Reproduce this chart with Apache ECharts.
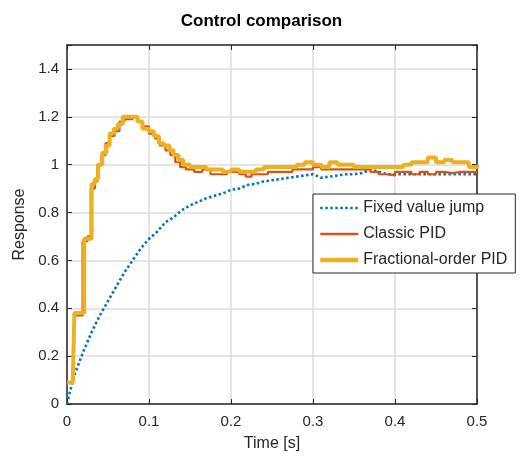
<!DOCTYPE html>
<html>
<head>
<meta charset="utf-8">
<script src="https://cdn.jsdelivr.net/npm/echarts@6/dist/echarts.min.js"></script>
<style>
html,body{margin:0;padding:0;background:#fff;}
#chart{width:523px;height:460px;}
</style>
</head>
<body>
<div id="chart"></div>
<script>
var seriesNames=["Fixed value jump","Classic PID","Fractional-order PID"];
var xTicks=[0,0.1,0.2,0.3,0.4,0.5];
var yTicks=[0,0.2,0.4,0.6,0.8,1,1.2,1.4];

// fixed value jump (dotted blue)
var jumpT=[0,0.005,0.01,0.02,0.03,0.04,0.05,0.06,0.07,0.08,0.09,0.1,0.11,0.12,0.13,0.14,0.15,0.16,0.17,0.18,0.19,0.2,0.21,0.22,0.23,0.24,0.25,0.26,0.27,0.28,0.29,0.3,0.31,0.32,0.33,0.34,0.35,0.36,0.37,0.38,0.39,0.4,0.42,0.44,0.46,0.48,0.5];
var jumpV=[0,0.07,0.13,0.22,0.3,0.37,0.43,0.49,0.55,0.6,0.65,0.69,0.72,0.76,0.78,0.81,0.83,0.845,0.86,0.87,0.88,0.895,0.9,0.915,0.92,0.93,0.935,0.94,0.945,0.95,0.955,0.96,0.945,0.95,0.955,0.96,0.96,0.965,0.98,0.97,0.96,0.96,0.96,0.96,0.96,0.96,0.96];

// classic PID (red)
var pidT=[0,0.007,0.009,0.016,0.019,0.025,0.029,0.034,0.037,0.042,0.047,0.052,0.058,0.064,0.07,0.08,0.086,0.092,0.1,0.107,0.113,0.12,0.126,0.132,0.138,0.145,0.155,0.165,0.175,0.185,0.195,0.205,0.21,0.218,0.225,0.235,0.245,0.26,0.275,0.29,0.3,0.31,0.32,0.34,0.36,0.37,0.38,0.39,0.4,0.41,0.42,0.43,0.44,0.45,0.46,0.47,0.48,0.5];
var pidV=[0.09,0.09,0.37,0.37,0.68,0.7,0.9,0.93,1.0,1.04,1.09,1.12,1.14,1.18,1.19,1.2,1.18,1.16,1.13,1.11,1.08,1.06,1.04,1.01,0.99,0.98,0.97,0.98,0.96,0.96,0.97,0.97,0.96,0.95,0.96,0.96,0.97,0.97,0.98,0.98,0.99,0.98,0.98,0.98,0.98,0.97,0.96,0.955,0.97,0.97,0.96,0.97,0.96,0.97,0.965,0.97,0.97,0.97];

// fractional-order PID (yellow)
var fopidT=[0,0.007,0.009,0.018,0.021,0.027,0.03,0.034,0.038,0.043,0.048,0.052,0.057,0.062,0.068,0.08,0.086,0.092,0.1,0.106,0.112,0.118,0.125,0.13,0.136,0.142,0.15,0.16,0.17,0.18,0.19,0.2,0.21,0.22,0.23,0.24,0.26,0.28,0.29,0.3,0.31,0.32,0.33,0.35,0.37,0.39,0.41,0.42,0.43,0.44,0.45,0.46,0.47,0.48,0.49,0.5];
var fopidV=[0.09,0.09,0.38,0.38,0.69,0.69,0.92,0.94,1.0,1.05,1.08,1.13,1.15,1.17,1.2,1.2,1.18,1.15,1.14,1.12,1.09,1.08,1.06,1.04,1.02,1.0,0.99,0.99,0.98,0.98,0.97,0.98,0.97,0.97,0.98,0.99,0.99,1.0,1.01,1.0,0.99,1.01,1.0,0.99,0.99,0.99,1.0,1.01,1.01,1.03,1.01,1.02,1.01,1.01,0.99,1.0];

var colors=['#0072BD','#D95319','#EDB120'];

function pairs(t,v){
	var out=[];
	for(var i=0;i<t.length;i++){out.push([t[i],v[i]]);}
	return out;
}

var txt='#262626';
var font='Liberation Sans';
var chart=echarts.init(document.getElementById('chart'));

function xAx(pos,show){
	return {
		type:'value',position:pos,min:0,max:0.5,interval:0.1,
		axisLine:{show:true,onZero:false,lineStyle:{color:txt,width:1.5}},
		axisTick:{show:true,inside:true,length:5,lineStyle:{color:txt,width:1}},
		axisLabel:{show:show,color:txt,fontSize:15,fontFamily:font,margin:10,
			formatter:function(v){return String(Math.round(v*10)/10);}},
		splitLine:{show:show,lineStyle:{color:'#dcdcdc',width:1.5}},
		name:show?'Time [s]':'',nameLocation:'middle',nameGap:32,
		nameTextStyle:{color:txt,fontSize:16,fontFamily:font}
	};
}
function yAx(pos,show){
	return {
		type:'value',position:pos,min:0,max:1.5,interval:0.2,
		axisLine:{show:true,onZero:false,lineStyle:{color:txt,width:1.5}},
		axisTick:{show:true,inside:true,length:5,lineStyle:{color:txt,width:1}},
		axisLabel:{show:show,color:txt,fontSize:15,fontFamily:font,margin:8,
			formatter:function(v){return yTicks.indexOf(Math.round(v*10)/10)>=0?String(Math.round(v*10)/10):'';}},
		splitLine:{show:show,lineStyle:{color:'#dcdcdc',width:1.5}},
		name:show?'Response':'',nameLocation:'middle',nameGap:38,
		nameTextStyle:{color:txt,fontSize:16,fontFamily:font}
	};
}

var option={
	backgroundColor:'#fff',
	animation:false,
	title:{
		text:'Control comparison',left:'center',top:8,
		textStyle:{color:'#000',fontSize:17,fontWeight:'bold',fontFamily:font}
	},
	grid:{left:67,right:46,top:45,bottom:56},
	legend:{
		data:[
			{name:seriesNames[0],lineStyle:{color:colors[0],width:2.6,type:[2.5,2.5]}},
			{name:seriesNames[1],lineStyle:{color:colors[1],width:2.6}},
			{name:seriesNames[2],lineStyle:{color:colors[2],width:4.5}}
		],
		orient:'vertical',left:313,top:194,
		backgroundColor:'#fff',borderColor:txt,borderWidth:1,borderRadius:0,
		padding:[6,8,5,5],itemGap:10,itemWidth:38,itemHeight:14,
		itemStyle:{opacity:0},
		textStyle:{color:txt,fontSize:16,fontFamily:font}
	},
	xAxis:[xAx('bottom',true),xAx('top',false)],
	yAxis:[yAx('left',true),yAx('right',false)],
	series:[
		{
			name:seriesNames[0],type:'line',symbol:'none',
			data:pairs(jumpT,jumpV),
			lineStyle:{color:colors[0],width:2.6,type:[2.5,2.5]},
			itemStyle:{color:colors[0]}
		},
		{
			name:seriesNames[1],type:'line',symbol:'none',step:'end',
			data:pairs(pidT,pidV),
			lineStyle:{color:colors[1],width:2.2},
			itemStyle:{color:colors[1]}
		},
		{
			name:seriesNames[2],type:'line',symbol:'none',step:'end',
			data:pairs(fopidT,fopidV),
			lineStyle:{color:colors[2],width:4},
			itemStyle:{color:colors[2]}
		}
	]
};
chart.setOption(option);
</script>
</body>
</html>
